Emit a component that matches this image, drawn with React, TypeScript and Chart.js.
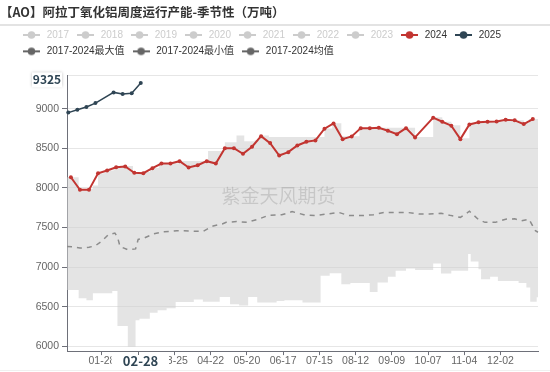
import React, { useEffect, useRef } from 'react';
import { Chart, registerables } from 'chart.js';

Chart.register(...registerables);

const FONT = '"Noto Sans CJK SC", "Noto Sans", sans-serif';
const LFONT = '"Liberation Sans", "Noto Sans CJK SC", sans-serif';

const chartTitle = '【AO】阿拉丁氧化铝周度运行产能-季节性（万吨）';
const watermarkText = '紫金天风期货';

// daily categories of a (non-leap) year, MM-DD
const monthLengths = [31, 28, 31, 30, 31, 30, 31, 31, 30, 31, 30, 31];
const categories: string[] = [];
monthLengths.forEach((n, m) => {
  for (let d = 1; d <= n; d++) {
    categories.push(String(m + 1).padStart(2, '0') + '-' + String(d).padStart(2, '0'));
  }
});

const xTickLabels = ['01-28', '02-25', '03-25', '04-22', '05-20', '06-17', '07-15', '08-12', '09-09', '10-07', '11-04', '12-02'];
const yTickValues = [6000, 6500, 7000, 7500, 8000, 8500, 9000];
const yMin = 5940;
const yMax = 9418.25;

const legendNames = ['2017', '2018', '2019', '2020', '2021', '2022', '2023', '2024', '2025', '2017-2024最大值', '2017-2024最小值', '2017-2024均值'];
const legendIconColors = ['#cccccc', '#cccccc', '#cccccc', '#cccccc', '#cccccc', '#cccccc', '#cccccc', '#c23531', '#2f4554', '#666666', '#666666', '#666666'];
const legendTextColors = ['#cccccc', '#cccccc', '#cccccc', '#cccccc', '#cccccc', '#cccccc', '#cccccc', '#333333', '#333333', '#333333', '#333333', '#333333'];

const dates2024 = ['01-04', '01-11', '01-18', '01-25', '02-01', '02-08', '02-15', '02-22', '03-01', '03-08', '03-15', '03-22', '03-29', '04-05', '04-12', '04-19', '04-26', '05-03', '05-10', '05-17', '05-24', '05-31', '06-07', '06-14', '06-21', '06-28', '07-05', '07-12', '07-19', '07-26', '08-02', '08-09', '08-16', '08-23', '08-30', '09-06', '09-13', '09-20', '09-27', '10-11', '10-18', '10-25', '11-01', '11-08', '11-15', '11-22', '11-29', '12-06', '12-13', '12-20', '12-27'];
const values2024 = [8134, 7975, 7975, 8185, 8219, 8261, 8270, 8190, 8185, 8248, 8307, 8307, 8337, 8257, 8286, 8337, 8307, 8501, 8501, 8430, 8519, 8653, 8565, 8409, 8451, 8535, 8582, 8599, 8747, 8814, 8615, 8649, 8754, 8754, 8759, 8721, 8678, 8754, 8637, 8886, 8835, 8785, 8615, 8801, 8827, 8835, 8839, 8861, 8852, 8805, 8868];

const dates2025 = ['01-02', '01-09', '01-16', '01-23', '02-06', '02-13', '02-20', '02-27'];
const values2025 = [8950, 8985, 9020, 9070, 9205, 9185, 9195, 9325];

const maxDates = ['01-01', '01-10', '01-21', '01-25', '01-30', '02-06', '02-15', '02-21', '02-28', '03-06', '03-13', '03-29', '04-07', '04-20', '05-03', '05-12', '05-18', '05-26', '05-30', '06-06', '07-19', '07-25', '08-01', '08-15', '09-20', '09-27', '10-11', '10-18', '10-25', '11-01', '11-08', '11-15', '11-22', '11-29', '12-06', '12-13', '12-20', '12-24', '12-31'];
const maxValues = [8134, 7990, 8030, 8185, 8220, 8265, 8275, 8195, 8200, 8250, 8310, 8340, 8340, 8465, 8577, 8662, 8590, 8600, 8660, 8641, 8750, 8815, 8650, 8760, 8758, 8641, 8890, 8835, 8790, 8625, 8805, 8830, 8838, 8842, 8862, 8855, 8815, 8870, 8870];

const minDates = ['01-01', '01-10', '01-16', '01-21', '02-05', '02-09', '02-17', '02-23', '02-26', '03-06', '03-12', '03-19', '03-26', '04-09', '04-16', '04-29', '05-07', '05-14', '05-21', '05-28', '06-12', '06-18', '07-02', '07-16', '07-23', '08-01', '08-08', '08-23', '08-29', '09-06', '09-12', '09-20', '09-27', '10-11', '10-17', '10-25', '11-07', '11-09', '11-15', '11-17', '11-24', '11-30', '12-16', '12-22', '12-25', '12-30', '12-31'];
const minValues = [6712, 6607, 6582, 6671, 6700, 6257, 5995, 6329, 6349, 6425, 6455, 6481, 6560, 6590, 6564, 6624, 6531, 6514, 6624, 6552, 6573, 6582, 6552, 6890, 6924, 6785, 6801, 6687, 6805, 6877, 6953, 6982, 6962, 7046, 6919, 6953, 7165, 7071, 6974, 6848, 6877, 6826, 6801, 6742, 6564, 6620, 6650];

const avgDates = ['01-01', '01-06', '01-11', '01-18', '01-23', '01-28', '02-02', '02-07', '02-09', '02-11', '02-17', '02-23', '02-25', '03-02', '03-09', '03-17', '03-27', '04-06', '04-16', '04-24', '05-01', '05-04', '05-12', '05-20', '05-29', '06-06', '06-16', '06-24', '07-03', '07-12', '07-21', '07-30', '08-07', '08-17', '08-26', '09-03', '09-12', '09-21', '09-30', '10-08', '10-17', '10-25', '11-01', '11-08', '11-15', '11-20', '11-28', '12-06', '12-13', '12-18', '12-24', '12-29', '12-31'];
const avgValues = [7260, 7255, 7240, 7250, 7270, 7330, 7410, 7430, 7380, 7260, 7220, 7230, 7350, 7370, 7420, 7445, 7460, 7455, 7450, 7520, 7545, 7565, 7575, 7565, 7605, 7655, 7660, 7700, 7662, 7650, 7670, 7690, 7650, 7650, 7662, 7690, 7690, 7690, 7670, 7670, 7680, 7650, 7628, 7705, 7600, 7565, 7565, 7605, 7610, 7585, 7605, 7460, 7440];

const pointerDate = '02-28';

const RED = '#c23531';
const NAVY = '#2f4554';
const AXIS = '#6e7079';
const GRID = '#e6e6e6';
const BAND = 'rgba(205,205,205,0.55)';

const toPoints = (dates: string[], values: number[]) => dates.map((d, i) => ({ x: d, y: values[i] }));

function makeIcon(color: string) {
  const c = document.createElement('canvas');
  c.width = 17;
  c.height = 10;
  const g = c.getContext('2d')!;
  g.strokeStyle = color;
  g.lineWidth = 2;
  g.beginPath();
  g.moveTo(0, 5);
  g.lineTo(17, 5);
  g.stroke();
  g.fillStyle = color;
  g.beginPath();
  g.arc(8.5, 5, 3.8, 0, Math.PI * 2);
  g.fill();
  return c;
}

const overlayPlugin = {
  id: 'overlay',
  afterDatasetsDraw(chart: any) {
    const ctx = chart.ctx;
    ctx.save();
    ctx.font = `19px ${FONT}`;
    ctx.fillStyle = 'rgba(0,0,0,0.13)';
    ctx.textBaseline = 'middle';
    ctx.textAlign = 'left';
    ctx.fillText(watermarkText, 221.5, 196);
    ctx.restore();
  },
  afterDraw(chart: any) {
    const ctx = chart.ctx;
    const xs = chart.scales.x;
    const ys = chart.scales.y;
    ctx.save();
    // title
    ctx.font = `bold 12.5px ${FONT}`;
    ctx.fillStyle = '#333333';
    ctx.textBaseline = 'middle';
    ctx.textAlign = 'left';
    ctx.fillText(chartTitle, 0, 12.5);
    // separator under title
    ctx.fillStyle = '#e3e3e3';
    ctx.fillRect(0, 24, chart.width, 2);
    // faint bottom line
    ctx.fillStyle = '#f0f0f0';
    ctx.fillRect(0, 370, chart.width, 1);

    // y axis pointer label
    const lastVal = values2025[values2025.length - 1];
    const py = ys.getPixelForValue(lastVal) - 3;
    ctx.shadowColor = 'rgba(0,0,0,0.25)';
    ctx.shadowBlur = 3;
    ctx.fillStyle = '#ffffff';
    ctx.fillRect(32, py - 7.5, 30, 15);
    ctx.shadowBlur = 0;
    ctx.shadowColor = 'rgba(0,0,0,0)';
    ctx.font = `bold 12px ${FONT}`;
    ctx.fillStyle = NAVY;
    ctx.textAlign = 'center';
    ctx.fillText(String(lastVal), 47, py);

    // x axis pointer label
    const px = xs.getPixelForValue(categories.indexOf(pointerDate)) - 1.5;
    ctx.fillStyle = '#ffffff';
    ctx.fillRect(px - 29, 355, 57.5, 15);
    ctx.font = `bold 13px ${FONT}`;
    ctx.fillStyle = NAVY;
    ctx.fillText(pointerDate, px, 361.5);
    ctx.restore();
  },
};

export default function App() {
  const ref = useRef<HTMLCanvasElement | null>(null);

  useEffect(() => {
    document.body.style.margin = '0';
    const canvas = ref.current;
    if (!canvas) return;
    const icons = legendIconColors.map(makeIcon);

    const chart = new Chart(canvas, {
      type: 'line',
      data: {
        labels: categories,
        datasets: [
          {
            label: '2024',
            data: toPoints(dates2024, values2024) as any,
            borderColor: RED,
            backgroundColor: RED,
            borderWidth: 2,
            pointRadius: 2,
            pointBorderWidth: 0,
            pointBackgroundColor: RED,
            fill: false,
          },
          {
            label: '2025',
            data: toPoints(dates2025, values2025) as any,
            borderColor: NAVY,
            backgroundColor: NAVY,
            borderWidth: 1.5,
            pointRadius: 2,
            pointBorderWidth: 0,
            pointBackgroundColor: NAVY,
            fill: false,
          },
          {
            label: '2017-2024均值',
            data: toPoints(avgDates, avgValues) as any,
            borderColor: '#8c8c8c',
            borderWidth: 1.5,
            borderDash: [5, 5],
            pointRadius: 0,
            fill: false,
          },
          {
            label: '2017-2024最大值',
            data: toPoints(maxDates, maxValues) as any,
            stepped: true,
            borderWidth: 0,
            borderColor: 'rgba(0,0,0,0)',
            backgroundColor: BAND,
            pointRadius: 0,
            fill: '+1',
          },
          {
            label: '2017-2024最小值',
            data: toPoints(minDates, minValues) as any,
            stepped: true,
            borderWidth: 0,
            borderColor: 'rgba(0,0,0,0)',
            pointRadius: 0,
            fill: false,
          },
        ],
      },
      options: {
        responsive: false,
        animation: false,
        events: [],
        layout: { padding: { left: 14.94, top: 23.64, right: 12, bottom: 4.3 } },
        plugins: {
          title: { display: false },
          subtitle: {
            display: true,
            text: ' ',
            position: 'top',
            weight: 500,
            font: { size: 1 },
            padding: { top: 0, bottom: 7.94 },
          } as any,
          tooltip: { enabled: false },
          legend: {
            display: true,
            position: 'top',
            align: 'start',
            onClick: () => {},
            labels: {
              usePointStyle: true,
              pointStyleWidth: 20.4,
              padding: 6.36,
              font: { family: LFONT, size: 10 },
              generateLabels: () =>
                legendNames.map((name, i) => ({
                  text: name,
                  fillStyle: legendIconColors[i],
                  strokeStyle: legendIconColors[i],
                  fontColor: legendTextColors[i],
                  lineWidth: 0,
                  hidden: false,
                  pointStyle: icons[i] as any,
                  datasetIndex: i,
                })),
            },
          },
        },
        scales: {
          x: {
            type: 'category',
            offset: false,
            afterBuildTicks: (s: any) => {
              s.ticks = xTickLabels.map((l) => ({ value: categories.indexOf(l) }));
            },
            ticks: {
              autoSkip: false,
              maxRotation: 0,
              padding: 0,
              color: '#666666',
              font: { family: LFONT, size: 10.5 },
            },
            grid: {
              display: true,
              drawOnChartArea: false,
              drawTicks: true,
              tickLength: 4,
              tickColor: AXIS,
            },
            border: { display: true, color: AXIS, width: 1 },
          },
          y: {
            type: 'linear',
            min: yMin,
            max: yMax,
            afterBuildTicks: (s: any) => {
              s.ticks = [...yTickValues, yMax].map((v) => ({ value: v }));
            },
            afterFit: (s: any) => {
              s.width = 52.06;
            },
            ticks: {
              padding: 3,
              color: '#666666',
              font: { family: LFONT, size: 10.5 },
              callback: (v: any) => (v > 9000 ? '' : String(v)),
            },
            grid: {
              color: GRID,
              tickLength: 5,
              tickColor: (c: any) => (c.tick && c.tick.value > 9000 ? 'rgba(0,0,0,0)' : AXIS),
            },
            border: { display: true, color: AXIS, width: 1 },
          },
        },
      },
      plugins: [overlayPlugin],
    });

    return () => chart.destroy();
  }, []);

  return (
    <div style={{ width: 550, height: 372, position: 'relative', background: '#ffffff' }}>
      <canvas ref={ref} width={550} height={372} style={{ display: 'block', width: 550, height: 372 }} />
    </div>
  );
}
